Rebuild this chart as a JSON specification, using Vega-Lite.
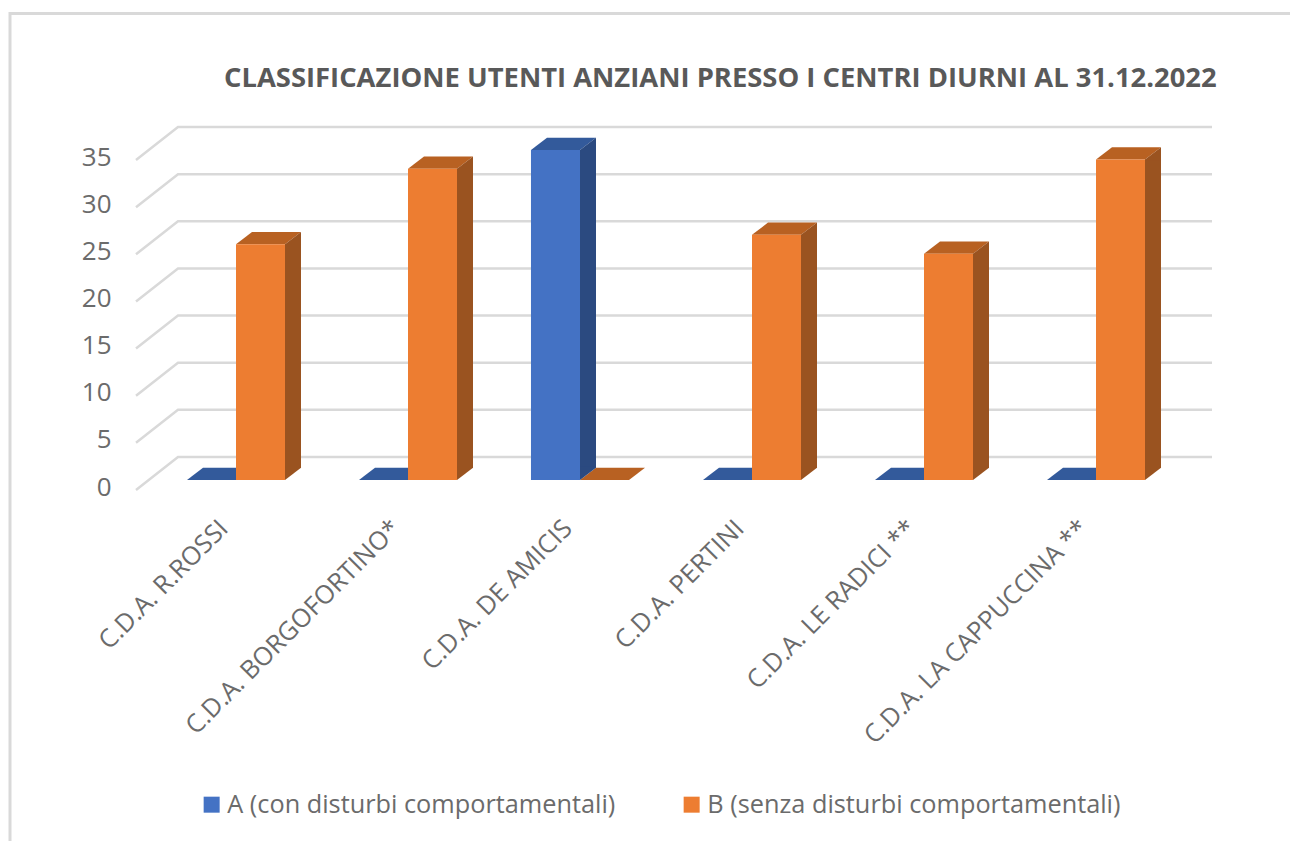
{
"$schema":"https://vega.github.io/schema/vega-lite/v6.json",
"autosize":{"type":"none"},
"padding":{"left":150,"top":150,"right":108,"bottom":361},
"width":1032,"height":330,
"background":"white",
"title":{"text":"CLASSIFICAZIONE UTENTI ANZIANI PRESSO I CENTRI DIURNI AL 31.12.2022","anchor":"start","frame":"group","dx":74,"offset":-84.5,"font":"Open Sans","fontSize":27.4,"fontWeight":"bold","color":"#595959"},
"config":{"view":{"stroke":null},"font":"Open Sans"},
"datasets":{
"bars":[
{"centro":"C.D.A. R.ROSSI","tipo":"A (con disturbi comportamentali)","utenti":0},
{"centro":"C.D.A. R.ROSSI","tipo":"B (senza disturbi comportamentali)","utenti":25},
{"centro":"C.D.A. BORGOFORTINO*","tipo":"A (con disturbi comportamentali)","utenti":0},
{"centro":"C.D.A. BORGOFORTINO*","tipo":"B (senza disturbi comportamentali)","utenti":33},
{"centro":"C.D.A. DE AMICIS","tipo":"A (con disturbi comportamentali)","utenti":35},
{"centro":"C.D.A. DE AMICIS","tipo":"B (senza disturbi comportamentali)","utenti":0},
{"centro":"C.D.A. PERTINI","tipo":"A (con disturbi comportamentali)","utenti":0},
{"centro":"C.D.A. PERTINI","tipo":"B (senza disturbi comportamentali)","utenti":26},
{"centro":"C.D.A. LE RADICI **","tipo":"A (con disturbi comportamentali)","utenti":0},
{"centro":"C.D.A. LE RADICI **","tipo":"B (senza disturbi comportamentali)","utenti":24},
{"centro":"C.D.A. LA CAPPUCCINA **","tipo":"A (con disturbi comportamentali)","utenti":0},
{"centro":"C.D.A. LA CAPPUCCINA **","tipo":"B (senza disturbi comportamentali)","utenti":34}
],
"ticks":[{"v":0},{"v":5},{"v":10},{"v":15},{"v":20},{"v":25},{"v":30},{"v":35}],
"one":[{"k":1}]
},
"resolve":{"scale":{"color":"independent"}},
"layer":[
{"data":{"name":"one"},"mark":{"type":"point","shape":"M-656,526 L-656,-301.5 L624,-301.5","size":4,"filled":false,"stroke":"#d9d9d9","strokeWidth":3,"opacity":1},"encoding":{}},
{"data":{"name":"ticks"},"mark":{"type":"point","shape":"M-530,10 L-488,-23 L546,-23","size":4,"filled":false,"stroke":"#d9d9d9","strokeWidth":2.5,"opacity":1},
 "encoding":{"y":{"field":"v","type":"quantitative","scale":{"domain":[0,35],"nice":false},"axis":{"values":[0,5,10,15,20,25,30,35],"title":null,"grid":false,"domain":false,"ticks":false,"labelPadding":39,"labelOffset":7,"labelFont":"Open Sans","labelFontSize":26,"labelColor":"#6b6b6b"}}}},
{"data":{"name":"bars"},
 "resolve":{"scale":{"color":"independent"}},
 "encoding":{
  "x":{"field":"centro","type":"nominal","sort":null,"scale":{"paddingInner":0.43,"paddingOuter":0.215},"axis":{"title":null,"domain":false,"ticks":false,"labelAngle":-45,"labelAlign":"right","labelBaseline":"middle","labelPadding":44,"labelOffset":-12,"labelFont":"Open Sans","labelFontSize":25.5,"labelColor":"#6b6b6b","labelLimit":500}},
  "y":{"field":"utenti","type":"quantitative","stack":null}
 },
 "layer":[
 {"mark":{"type":"point","shape":"M-24.5,0 L24.5,0 L40.5,-12.3 L-8.5,-12.3 Z","size":4,"filled":true,"opacity":1},
  "encoding":{"xOffset":{"field":"tipo","type":"nominal"},"color":{"field":"tipo","type":"nominal","legend":null,"scale":{"range":["#335a9b","#b86122"]}}}},
 {"transform":[{"filter":"datum.utenti > 0"},{"filter":{"field":"tipo","equal":"A (con disturbi comportamentali)"}}],
  "mark":{"type":"rule","strokeWidth":16,"xOffset":8,"y2Offset":-12.3,"opacity":1,"color":"#2b4a80"},
  "encoding":{"y2":{"datum":0}}},
 {"transform":[{"filter":"datum.utenti > 0"},{"filter":{"field":"tipo","equal":"B (senza disturbi comportamentali)"}}],
  "mark":{"type":"rule","strokeWidth":16,"xOffset":57,"y2Offset":-12.3,"opacity":1,"color":"#9a5320"},
  "encoding":{"y2":{"datum":0}}},
 {"transform":[{"filter":"datum.utenti > 0"}],
  "resolve":{"scale":{"color":"independent"}},
  "encoding":{"xOffset":{"field":"tipo","type":"nominal"}},
  "layer":[
  {"mark":{"type":"point","shape":"M24.5,0 L40.5,-12.3 L40.5,1 L24.5,1 Z","size":4,"filled":true,"opacity":1},
   "encoding":{"color":{"field":"tipo","type":"nominal","legend":null,"scale":{"range":["#2b4a80","#9a5320"]}}}},
  {"mark":{"type":"point","shape":"M24.5,-13.3 L40.5,-13.3 L40.5,-12.3 L24.5,0 Z","size":4,"filled":true,"opacity":1},
   "encoding":{"y":{"datum":0},"color":{"field":"tipo","type":"nominal","legend":null,"scale":{"range":["#2b4a80","#9a5320"]}}}}
  ]},
 {"mark":{"type":"bar"},
  "encoding":{"xOffset":{"field":"tipo","type":"nominal"},"color":{"field":"tipo","type":"nominal","scale":{"range":["#4472c4","#ed7d31"]},
   "legend":{"orient":"none","legendX":49,"legendY":642,"direction":"horizontal","title":null,"symbolType":"square","symbolSize":256,"symbolStrokeWidth":0,"labelFont":"Open Sans","labelFontSize":25.3,"labelColor":"#6b6b6b","labelOffset":3,"columnPadding":63,"labelLimit":500,"padding":0}}}}
 ]}
]
}
